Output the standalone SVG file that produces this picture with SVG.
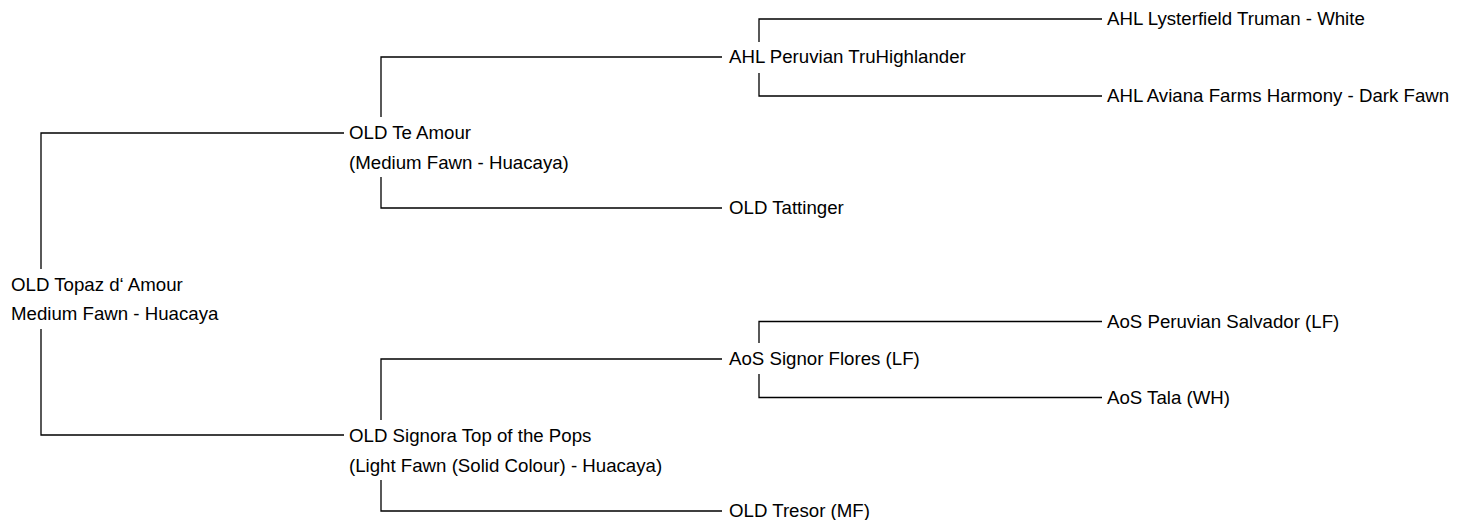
<svg xmlns="http://www.w3.org/2000/svg" width="1467" height="520" viewBox="0 0 1467 520">
<style>
text{font-family:"Liberation Sans",Arial,sans-serif;font-size:18.67px;fill:#000}
.c path{fill:none;stroke:#000;stroke-width:1.3}
</style>
<rect width="1467" height="520" fill="#fff"/>
<g class="c" id="connectors">
<path d="M344,133H41V269M41,329V435H344"/>
<path d="M722,57H381V117M381,177V208H722"/>
<path d="M722,359H381V420M381,480V511H722"/>
<path d="M1102,19H759V42M759,73V96H1102"/>
<path d="M1102,321.5H759V343M759,374V397.5H1102"/>
</g>
<g id="n-root"><text x="11" y="290.5">OLD Topaz d‘ Amour</text><text x="11" y="320">Medium Fawn - Huacaya</text></g>
<g id="n-sire"><text x="349" y="138.5">OLD Te Amour</text><text x="349" y="168.5">(Medium Fawn - Huacaya)</text></g>
<g id="n-dam"><text x="349" y="441.5">OLD Signora Top of the Pops</text><text x="349" y="471.5">(Light Fawn (Solid Colour) - Huacaya)</text></g>
<g id="n-ss"><text x="729" y="63">AHL Peruvian TruHighlander</text></g>
<g id="n-sd"><text x="729" y="214">OLD Tattinger</text></g>
<g id="n-ds"><text x="729" y="365">AoS Signor Flores (LF)</text></g>
<g id="n-dd"><text x="729" y="517">OLD Tresor (MF)</text></g>
<g id="n-sss"><text x="1107" y="25">AHL Lysterfield Truman - White</text></g>
<g id="n-ssd"><text x="1107" y="102">AHL Aviana Farms Harmony - Dark Fawn</text></g>
<g id="n-dss"><text x="1107" y="327.5">AoS Peruvian Salvador (LF)</text></g>
<g id="n-dsd"><text x="1107" y="403.5">AoS Tala (WH)</text></g>
</svg>
